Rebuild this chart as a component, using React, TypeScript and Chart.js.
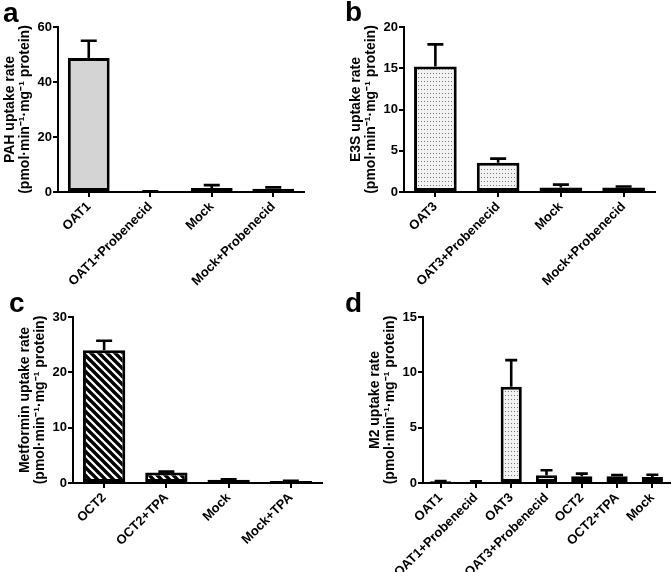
import React, { useEffect, useRef } from 'react';
import { Chart, registerables } from 'chart.js';

Chart.register(...registerables);

const FONT = "'Liberation Sans', Arial, sans-serif";
const UNIT = '(pmol·min⁻¹·mg⁻¹ protein)';

// ---- Panel a ----
const aCategories = ['OAT1', 'OAT1+Probenecid', 'Mock', 'Mock+Probenecid'];
const aValues = [48.7, 0.25, 1.5, 1.2];
const aErrors = [6.3, 0.05, 1.0, 0.5];
const aTicks = [0, 20, 40, 60];

// ---- Panel b ----
const bCategories = ['OAT3', 'OAT3+Probenecid', 'Mock', 'Mock+Probenecid'];
const bValues = [15.2, 3.55, 0.55, 0.55];
const bErrors = [2.7, 0.5, 0.35, 0.12];
const bTicks = [0, 5, 10, 15, 20];

// ---- Panel c ----
const cCategories = ['OCT2', 'OCT2+TPA', 'Mock', 'Mock+TPA'];
const cValues = [24.0, 1.9, 0.6, 0.35];
const cErrors = [1.7, 0.15, 0.05, 0.05];
const cTicks = [0, 10, 20, 30];

// ---- Panel d ----
const dCategories = ['OAT1', 'OAT1+Probenecid', 'OAT3', 'OAT3+Probenecid', 'OCT2', 'OCT2+TPA', 'Mock'];
const dValues = [0.15, 0.12, 8.7, 0.7, 0.6, 0.6, 0.55];
const dErrors = [0.03, 0.03, 2.4, 0.45, 0.25, 0.12, 0.2];
const dTicks = [0, 5, 10, 15];

type Fill = 'gray' | 'dark' | 'white' | 'dots' | 'stripes';
const aFills: Fill[] = ['gray', 'gray', 'white', 'dark'];
const bFills: Fill[] = ['dots', 'dots', 'white', 'white'];
const cFills: Fill[] = ['stripes', 'stripes', 'stripes', 'stripes'];
const dFills: Fill[] = ['gray', 'gray', 'dots', 'dots', 'stripes', 'stripes', 'white'];

function makeDots(): CanvasPattern | string {
  const c = document.createElement('canvas');
  c.width = 3;
  c.height = 4;
  const g = c.getContext('2d');
  if (!g) return '#eee';
  g.fillStyle = '#f2f2f2';
  g.fillRect(0, 0, 3, 4);
  g.fillStyle = '#7a7a7a';
  g.fillRect(1, 1, 1, 1);
  return g.createPattern(c, 'repeat') || '#eee';
}

function makeStripes(): CanvasPattern | string {
  const s = 8;
  const c = document.createElement('canvas');
  c.width = s;
  c.height = s;
  const g = c.getContext('2d');
  if (!g) return '#888';
  g.fillStyle = '#fff';
  g.fillRect(0, 0, s, s);
  g.strokeStyle = '#000';
  g.lineWidth = 3.4;
  for (const o of [-s, 0, s]) {
    g.beginPath();
    g.moveTo(o - 2, -2);
    g.lineTo(o + s + 2, s + 2);
    g.stroke();
  }
  return g.createPattern(c, 'repeat') || '#888';
}

const errorBarPlugin = {
  id: 'errorBars',
  afterDatasetsDraw(chart: any, _args: any, opts: any) {
    const { ctx } = chart;
    const yScale = chart.scales.y;
    const errs: number[] = opts.errors || [];
    const cap: number = opts.cap || 16;
    chart.data.datasets.forEach((ds: any, di: number) => {
      const meta = chart.getDatasetMeta(di);
      meta.data.forEach((bar: any, i: number) => {
        const v = ds.data[i];
        const e = errs[i] || 0;
        const x = bar.x;
        const y0 = yScale.getPixelForValue(v);
        const y1 = yScale.getPixelForValue(v + e);
        ctx.save();
        ctx.strokeStyle = '#000';
        ctx.lineWidth = 2.6;
        ctx.lineCap = 'butt';
        ctx.beginPath();
        ctx.moveTo(x, y0);
        ctx.lineTo(x, y1);
        ctx.moveTo(x - cap / 2, y1);
        ctx.lineTo(x + cap / 2, y1);
        ctx.stroke();
        ctx.restore();
      });
    });
  },
};

interface PanelSpec {
  categories: string[];
  values: number[];
  errors: number[];
  ticks: number[];
  fills: Fill[];
  title: string;
  padLeft: number;
  padRight: number;
  padTop: number;
  yWidth: number;
  xHeight: number;
  barPct: number;
  cap: number;
  titlePad: number;
}

function buildConfig(p: PanelSpec): any {
  const dots = makeDots();
  const stripes = makeStripes();
  const styleOf = (f: Fill) =>
    f === 'gray' ? '#d4d4d4' : f === 'dark' ? '#9a9a9a' : f === 'white' ? '#ffffff' : f === 'dots' ? dots : stripes;
  const max = p.ticks[p.ticks.length - 1];
  const step = p.ticks[1] - p.ticks[0];
  return {
    type: 'bar',
    data: {
      labels: p.categories,
      datasets: [
        {
          data: p.values,
          backgroundColor: p.fills.map(styleOf),
          borderColor: '#000',
          borderWidth: 3,
          borderSkipped: false,
          categoryPercentage: 1,
          barPercentage: p.barPct,
        },
      ],
    },
    options: {
      responsive: false,
      animation: false,
      devicePixelRatio: 1,
      layout: { padding: { left: p.padLeft, right: p.padRight, top: p.padTop, bottom: 0 } },
      plugins: {
        legend: { display: false },
        tooltip: { enabled: false },
        errorBars: { errors: p.errors, cap: p.cap },
      },
      scales: {
        x: {
          offset: true,
          afterFit: (s: any) => {
            s.height = p.xHeight;
          },
          grid: {
            display: true,
            offset: false,
            drawOnChartArea: false,
            drawTicks: true,
            tickLength: 5,
            color: '#000',
            lineWidth: 2,
          },
          border: { display: true, color: '#000', width: 2 },
          ticks: {
            color: '#000',
            font: { family: FONT, size: 13, weight: 'bold' },
            minRotation: 45,
            maxRotation: 45,
            autoSkip: false,
            padding: 2,
          },
        },
        y: {
          min: 0,
          max,
          afterFit: (s: any) => {
            s.width = p.yWidth;
          },
          grid: {
            display: true,
            drawOnChartArea: false,
            drawTicks: true,
            tickLength: 5,
            color: '#000',
            lineWidth: 2,
          },
          border: { display: true, color: '#000', width: 2 },
          ticks: {
            stepSize: step,
            color: '#000',
            padding: 1,
            font: { family: FONT, size: 13, weight: 'bold' },
          },
          title: {
            display: true,
            text: [p.title, UNIT],
            color: '#000',
            font: { family: FONT, size: 14, weight: 'bold', lineHeight: 1.12 },
            padding: { top: p.titlePad, bottom: 0 },
          },
        },
      },
    },
    plugins: [errorBarPlugin],
  };
}

function Panel({ left, top, spec }: { left: number; top: number; spec: PanelSpec }) {
  const ref = useRef<HTMLCanvasElement | null>(null);
  useEffect(() => {
    if (!ref.current) return;
    const chart = new Chart(ref.current, buildConfig(spec));
    return () => chart.destroy();
  }, []);
  return (
    <canvas
      ref={ref}
      width={336}
      height={286}
      style={{ position: 'absolute', left, top, width: 336, height: 286 }}
    />
  );
}

const letterStyle = (left: number, top: number): React.CSSProperties => ({
  position: 'absolute',
  left,
  top,
  fontFamily: FONT,
  fontWeight: 'bold',
  fontSize: 28,
  lineHeight: '28px',
  color: '#000',
});

export default function App() {
  const specA: PanelSpec = {
    categories: aCategories, values: aValues, errors: aErrors, ticks: aTicks, fills: aFills,
    title: 'PAH uptake rate', padLeft: 0, padRight: 32, padTop: 27, yWidth: 58, xHeight: 94,
    barPct: 0.68, cap: 16, titlePad: 2,
  };
  const specB: PanelSpec = {
    categories: bCategories, values: bValues, errors: bErrors, ticks: bTicks, fills: bFills,
    title: 'E3S uptake rate', padLeft: 10, padRight: 17, padTop: 27, yWidth: 58, xHeight: 94,
    barPct: 0.68, cap: 16, titlePad: 2,
  };
  const specC: PanelSpec = {
    categories: cCategories, values: cValues, errors: cErrors, ticks: cTicks, fills: cFills,
    title: 'Metformin uptake rate', padLeft: 15, padRight: 14, padTop: 31, yWidth: 58, xHeight: 89,
    barPct: 0.68, cap: 16, titlePad: 2,
  };
  const specD: PanelSpec = {
    categories: dCategories, values: dValues, errors: dErrors, ticks: dTicks, fills: dFills,
    title: 'M2 uptake rate', padLeft: 29, padRight: 2, padTop: 31, yWidth: 58, xHeight: 89,
    barPct: 0.6, cap: 12, titlePad: 2,
  };
  return (
    <div style={{ position: 'absolute', left: 0, top: 0, width: 672, height: 572, background: '#fff', overflow: 'hidden' }}>
      <Panel left={0} top={0} spec={specA} />
      <Panel left={336} top={0} spec={specB} />
      <Panel left={0} top={286} spec={specC} />
      <Panel left={336} top={286} spec={specD} />
      <div style={letterStyle(3, -1)}>a</div>
      <div style={letterStyle(345, -2)}>b</div>
      <div style={letterStyle(9, 289)}>c</div>
      <div style={letterStyle(345, 289)}>d</div>
    </div>
  );
}
